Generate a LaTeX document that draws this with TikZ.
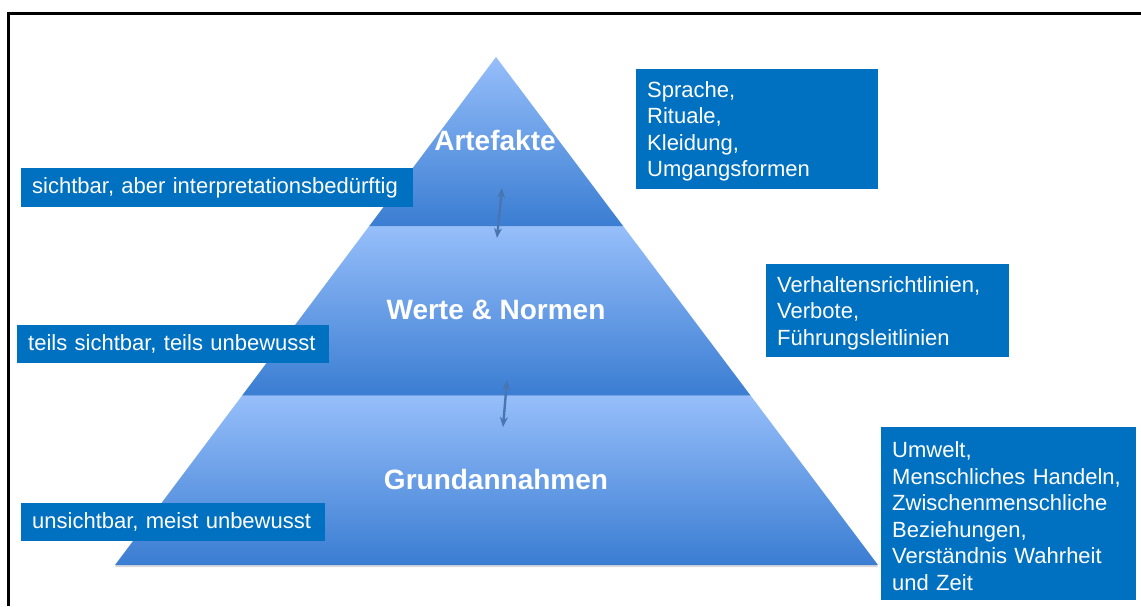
\documentclass[tikz,border=0pt]{standalone}
\usepackage{fontspec}
\setmainfont{Liberation Sans}
\usetikzlibrary{positioning,arrows.meta,calc,shadows}

\definecolor{boxblue}{RGB}{0,112,192}
\definecolor{pyrlight}{RGB}{150,190,250}
\definecolor{pyrdark}{RGB}{58,125,210}
\definecolor{arrowblue}{RGB}{72,118,178}

\begin{document}
\begin{tikzpicture}
    [
      x=1pt, y=1pt,
      >/.tip={Stealth[length=10pt,width=8pt]},
      my layer/.style={top color=pyrlight, bottom color=pyrdark, draw=none},
      my level/.style={text=white, font=\fontsize{28}{32}\selectfont\bfseries},
      my tag/.style={fill=boxblue, text=white, anchor=west, align=left, inner xsep=11pt, inner ysep=0pt, text width=#1, font=\fontsize{22}{26.5}\selectfont},
      my list/.style={my tag=#1, execute at begin node=\rule{0pt}{21pt}},
      my arrow/.style={<->, draw=arrowblue, line width=2.4pt}
    ]
    \useasboundingbox (0,0) rectangle (1141,606);
    \draw [line width=3pt] (8.5,0) -- (8.5,592.5) -- (1141,592.5);
    % pyramid
    \coordinate (apex) at (496,549);
    \coordinate (bl) at (115,41);
    \coordinate (br) at (878,41);
    \coordinate (ml1) at ($(bl)!1/3!(apex)$);
    \coordinate (mr1) at ($(br)!1/3!(apex)$);
    \coordinate (ml2) at ($(bl)!2/3!(apex)$);
    \coordinate (mr2) at ($(br)!2/3!(apex)$);
    \shade [my layer, drop shadow={shadow xshift=0pt, shadow yshift=-2pt, opacity=.3}] (bl) -- (br) -- (mr1) -- (ml1) -- cycle;
    \shade [my layer] (ml1) -- (mr1) -- (mr2) -- (ml2) -- cycle;
    \shade [my layer] (ml2) -- (mr2) -- (apex) -- cycle;
    \node (art) [my level] at (495,466) {Artefakte};
    \node (werte) [my level] at (496,296) {Werte \& Normen};
    \node (grund) [my level] at (496,127) {Grundannahmen};
    \coordinate (a1top) at (502,418);
    \coordinate (a1bot) at (497,368);
    \coordinate (a2top) at (507,226);
    \coordinate (a2bot) at (503,179);
    \path [my arrow] (a1top) -- (a1bot);
    \path [my arrow] (a2top) -- (a2bot);
    % left tags
    \node (sicht) [my tag=370pt, minimum height=39pt] at (21,418.5) {sichtbar, aber interpretationsbedürftig};
    \node (teils) [my tag=290pt, minimum height=38pt] at (17,262) {teils sichtbar, teils unbewusst};
    \node (unsicht) [my tag=282pt, minimum height=38pt] at (21,84) {unsichtbar, meist unbewusst};
    % right lists
    \node (sprache) [my list=220pt, minimum height=120pt] at (636,477) {Sprache,\\Rituale,\\Kleidung,\\Umgangsformen};
    \node (verhalten) [my list=221pt, minimum height=93pt] at (766,295.5) {Verhaltensrichtlinien,\\Verbote,\\Führungsleitlinien};
    \node (umwelt) [my list=233pt, minimum height=173pt] at (881,92.5) {Umwelt,\\Menschliches Handeln,\\Zwischenmenschliche\\Beziehungen,\\Verständnis Wahrheit\\und Zeit};
  \end{tikzpicture}
\end{document}
